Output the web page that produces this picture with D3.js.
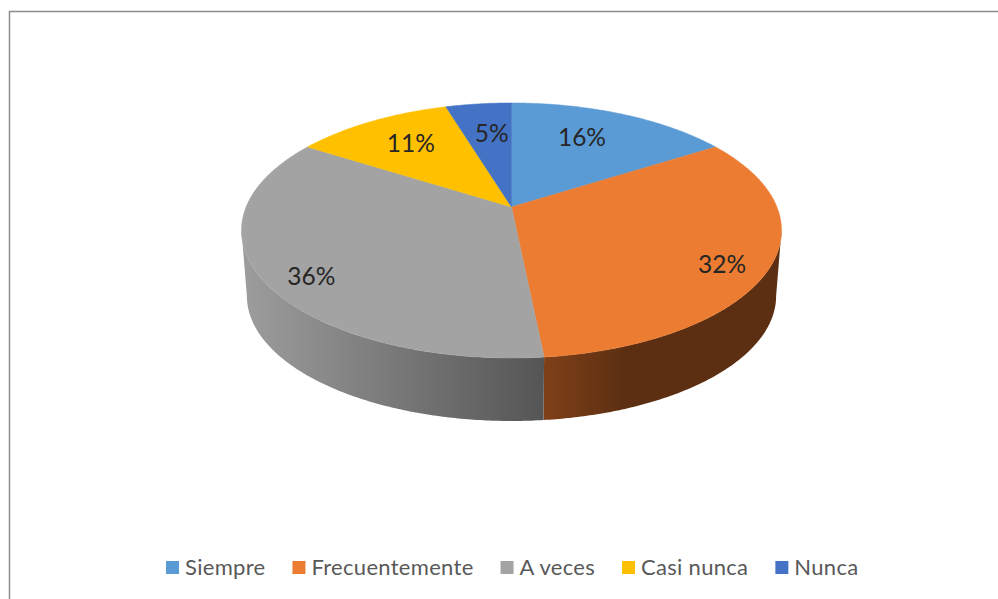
<!DOCTYPE html>
<html>
<head>
<meta charset="utf-8">
<script src="https://d3js.org/d3.v7.min.js"></script>
<style>
   html, body { margin: 0; padding: 0; background: #fff; }
   svg { display: block; }
   text { font-family: Lato, "Open Sans", sans-serif; }
</style>
</head>
<body>
<div id="chart"></div>
<script>
var categories = ['Siempre', 'Frecuentemente', 'A veces', 'Casi nunca', 'Nunca'];
var values = [16, 32.4, 35.6, 11.3, 4.7];
var topColors = ['#5B9BD5', '#EB7C31', '#A3A3A3', '#FFC000', '#4472C4'];
var wallLight = ['#5B9BD5', '#7F4018', '#9C9C9C', '#FFC000', '#4472C4'];
var wallDark = ['#5B9BD5', '#5C2F12', '#555555', '#FFC000', '#4472C4'];
var wallFade = [1, 0.35, 1, 1, 1];

var width = 998,
   height = 599,
   cx = 511.5,
   cy = 207,
   radiusX = 265.4,
   radiusY = 123.2,
   tilt = -0.184,
   wallDrop = 66,
   wallShrink = 0.98;

var svg = d3.select('#chart')
   .append('svg')
   .attr('width', width)
   .attr('height', height);

var defs = svg.append('defs');

// frame: only the top and left edges show in the picture
svg.append('path')
   .attr('d', 'M9.5,' + height + 'V11.5H' + width)
   .attr('fill', 'none')
   .attr('stroke', '#8c8c8c')
   .attr('stroke-width', 1.5);

// circle on the pie plane -> screen, perspective so the apex sits above the ellipse middle
function project(angle, r, drop, shrink) {
   var u = r * Math.sin(angle),
      v = -r * Math.cos(angle),
      w = 1 + tilt * v;
   return [
      cx + shrink * radiusX * u / w,
      cy + drop + shrink * radiusY * v / w
   ];
}

function arcPoints(a0, a1, drop, shrink) {
   var n = Math.max(2, Math.ceil((a1 - a0) / 0.01));
   return d3.range(n + 1).map(function (i) {
      return project(a0 + (a1 - a0) * i / n, 1, drop, shrink);
   });
}

var line = d3.line();
var slices = d3.pie().sort(null)(values);

// silhouette of the disc, where the wall starts and ends
var frontStart = Math.acos(tilt),
   frontEnd = 2 * Math.PI - frontStart;

var walls = slices.filter(function (d) {
   return d.endAngle > frontStart && d.startAngle < frontEnd;
});

walls.forEach(function (d) {
   var a0 = Math.max(d.startAngle, frontStart),
      a1 = Math.min(d.endAngle, frontEnd),
      edge0 = project(a0, 1, wallDrop, wallShrink)[0],
      edge1 = project(a1, 1, wallDrop, wallShrink)[0],
      gradient = defs.append('linearGradient')
         .attr('id', 'wall' + d.index)
         .attr('gradientUnits', 'userSpaceOnUse')
         .attr('x1', Math.min(edge0, edge1))
         .attr('x2', Math.max(edge0, edge1))
         .attr('y1', 0)
         .attr('y2', 0);
   gradient.append('stop').attr('offset', 0)
      .attr('stop-color', wallLight[d.index]);
   gradient.append('stop').attr('offset', wallFade[d.index])
      .attr('stop-color', wallDark[d.index]);

   svg.append('path')
      .attr('d', line(arcPoints(a0, a1, 0, 1)
         .concat(arcPoints(a0, a1, wallDrop, wallShrink).reverse())) + 'Z')
      .attr('fill', 'url(#wall' + d.index + ')');
});

svg.selectAll('path.slice')
   .data(slices)
   .enter().append('path')
   .attr('class', 'slice')
   .attr('d', function (d) {
      return line([project(0, 0, 0, 1)].concat(arcPoints(d.startAngle, d.endAngle, 0, 1))) + 'Z';
   })
   .attr('fill', function (d) { return topColors[d.index]; })
   .attr('stroke', function (d) { return topColors[d.index]; })
   .attr('stroke-width', 0.5);

var percent = d3.format('.0f');
var total = d3.sum(values);
var labelRadius = [0.72, 0.86, 0.82, 0.72, 0.72];
var labelDx = [-12, -10, 1, 4, 5];
var labelDy = [1, 8, 12, 1, 5];

svg.selectAll('text.value')
   .data(slices)
   .enter().append('text')
   .attr('class', 'value')
   .attr('x', function (d) {
      return project((d.startAngle + d.endAngle) / 2, labelRadius[d.index], 0, 1)[0] + labelDx[d.index];
   })
   .attr('y', function (d) {
      return project((d.startAngle + d.endAngle) / 2, labelRadius[d.index], 0, 1)[1] + 8 + labelDy[d.index];
   })
   .attr('text-anchor', 'middle')
   .attr('font-size', 24.5)
   .attr('fill', '#262626')
   .text(function (d) { return percent(d.value / total * 100) + '%'; });

// legend flows left to right from the first swatch
var legendX = 166;
categories.forEach(function (name, i) {
   svg.append('rect')
      .attr('x', legendX)
      .attr('y', 561)
      .attr('width', 13)
      .attr('height', 13)
      .attr('fill', topColors[i]);
   var label = svg.append('text')
      .attr('x', legendX + 19)
      .attr('y', 575)
      .attr('font-size', 22)
      .attr('letter-spacing', 0.3)
      .attr('fill', '#595959')
      .text(name);
   legendX += 19 + label.node().getComputedTextLength() + 27;
});
</script>
</body>
</html>
